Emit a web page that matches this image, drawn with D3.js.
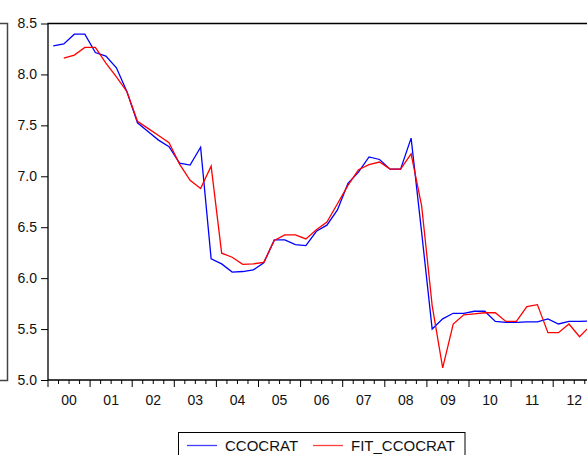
<!DOCTYPE html>
<html>
<head>
<meta charset="utf-8">
<script src="https://cdn.jsdelivr.net/npm/d3@7/dist/d3.min.js"></script>
<style>
  html, body { margin: 0; padding: 0; background: #fff; }
  svg { display: block; font-family: "Liberation Sans", Arial, sans-serif; }
</style>
</head>
<body>
<svg id="chart" width="587" height="455"></svg>
<script>
// Quarterly series, 2000Q1 .. 2012Q4
const startYear = 2000;
const yearLabels = ["00","01","02","03","04","05","06","07","08","09","10","11","12"];
const yTicks = [5.0, 5.5, 6.0, 6.5, 7.0, 7.5, 8.0, 8.5];

const ccocrat = [
  8.28, 8.30, 8.395, 8.395, 8.215, 8.18, 8.065, 7.83,
  7.525, 7.44, 7.355, 7.29, 7.13, 7.11, 7.285, 6.19,
  6.14, 6.06, 6.065, 6.08, 6.15, 6.375, 6.375, 6.33,
  6.32, 6.46, 6.52, 6.67, 6.93, 7.04, 7.19, 7.165,
  7.07, 7.07, 7.375, 6.45, 5.50, 5.60, 5.655, 5.655,
  5.675, 5.675, 5.575, 5.565, 5.565, 5.57, 5.57, 5.60,
  5.55, 5.575, 5.575, 5.58
];

const fitCcocrat = [
  null, 8.16, 8.19, 8.265, 8.265, 8.11, 7.975, 7.83,
  7.54, 7.47, 7.40, 7.33, 7.12, 6.96, 6.88, 7.10,
  6.245, 6.205, 6.135, 6.14, 6.155, 6.37, 6.425, 6.425,
  6.385, 6.475, 6.55, 6.73, 6.91, 7.065, 7.115, 7.14,
  7.07, 7.07, 7.22, 6.71, 5.73, 5.12, 5.55, 5.64,
  5.65, 5.66, 5.66, 5.575, 5.575, 5.72, 5.74, 5.465,
  5.465, 5.55, 5.425, 5.53
];

const seriesNames = ["CCOCRAT", "FIT_CCOCRAT"];
const seriesColors = ["#0000ff", "#ff0000"];

const svg = d3.select("#chart");
const plotLeft = 48, plotTop = 23.5, plotBottom = 380;
const yearWidth = 42.1;
const endYear = startYear + yearLabels.length;

const x = d3.scaleLinear().domain([startYear, endYear]).range([plotLeft, plotLeft + yearWidth * yearLabels.length]);
const y = d3.scaleLinear().domain([5, 8.5]).range([plotBottom, plotTop]);

const tAt = i => startYear + (i + 0.5) / 4;

// fragment of neighbouring frame at the far left
svg.append("path")
  .attr("d", `M0,${plotTop} H7.5 V${plotBottom + 0.5} H0`)
  .attr("fill", "none").attr("stroke", "#444").attr("stroke-width", 1.5);

// plot frame (top and left edges; continues past right edge)
svg.append("path")
  .attr("d", `M${587},${plotTop} H${plotLeft} V${plotBottom} H${587}`)
  .attr("fill", "none").attr("stroke", "#000").attr("stroke-width", 1.3);

// y axis
const yAxis = d3.axisLeft(y).tickValues(yTicks).tickFormat(d3.format(".1f")).tickSize(7).tickPadding(4);
const gy = svg.append("g").attr("transform", `translate(${plotLeft},0)`).call(yAxis);
gy.select(".domain").remove();
gy.selectAll("line").attr("stroke", "#000");
gy.selectAll("text").attr("font-size", 14).attr("fill", "#111")
  .attr("font-family", "Liberation Sans, Arial, sans-serif");

// x axis: minor ticks at quarter boundaries, major at year boundaries
const quarterBounds = d3.range(0, yearLabels.length * 4 + 1).map(q => startYear + q / 4);
svg.append("g").selectAll("line").data(quarterBounds).join("line")
  .attr("x1", d => x(d)).attr("x2", d => x(d))
  .attr("y1", plotBottom)
  .attr("y2", (d, i) => plotBottom + (i % 4 === 0 ? 7 : 4))
  .attr("stroke", "#000").attr("stroke-width", 1);

svg.append("g").selectAll("text").data(yearLabels).join("text")
  .attr("x", (d, i) => x(startYear + i + 0.5))
  .attr("y", 405)
  .attr("text-anchor", "middle")
  .attr("font-size", 14).attr("fill", "#111")
  .text(d => d);

// series lines
const line = d3.line()
  .defined(d => d != null)
  .x((d, i) => x(tAt(i)))
  .y(d => y(d));

[ccocrat, fitCcocrat].forEach((s, k) => {
  svg.append("path")
    .datum(s)
    .attr("d", line)
    .attr("fill", "none")
    .attr("stroke", seriesColors[k])
    .attr("stroke-width", 1.3)
    .attr("stroke-linejoin", "miter");
});

// legend
const lg = svg.append("g");
lg.append("rect").attr("x", 178.5).attr("y", 432.5).attr("width", 286.5).attr("height", 40)
  .attr("fill", "#fff").attr("stroke", "#000").attr("stroke-width", 1);
const legendItems = [
  { x0: 187, x1: 217, tx: 225 },
  { x0: 313, x1: 343, tx: 351 }
];
legendItems.forEach((it, k) => {
  lg.append("line").attr("x1", it.x0).attr("x2", it.x1).attr("y1", 445.5).attr("y2", 445.5)
    .attr("stroke", seriesColors[k]).attr("stroke-width", 1.3).attr("opacity", 0.75);
  lg.append("text").attr("x", it.tx).attr("y", 451).attr("font-size", 15).attr("fill", "#111")
    .text(seriesNames[k]);
});
</script>
</body>
</html>
